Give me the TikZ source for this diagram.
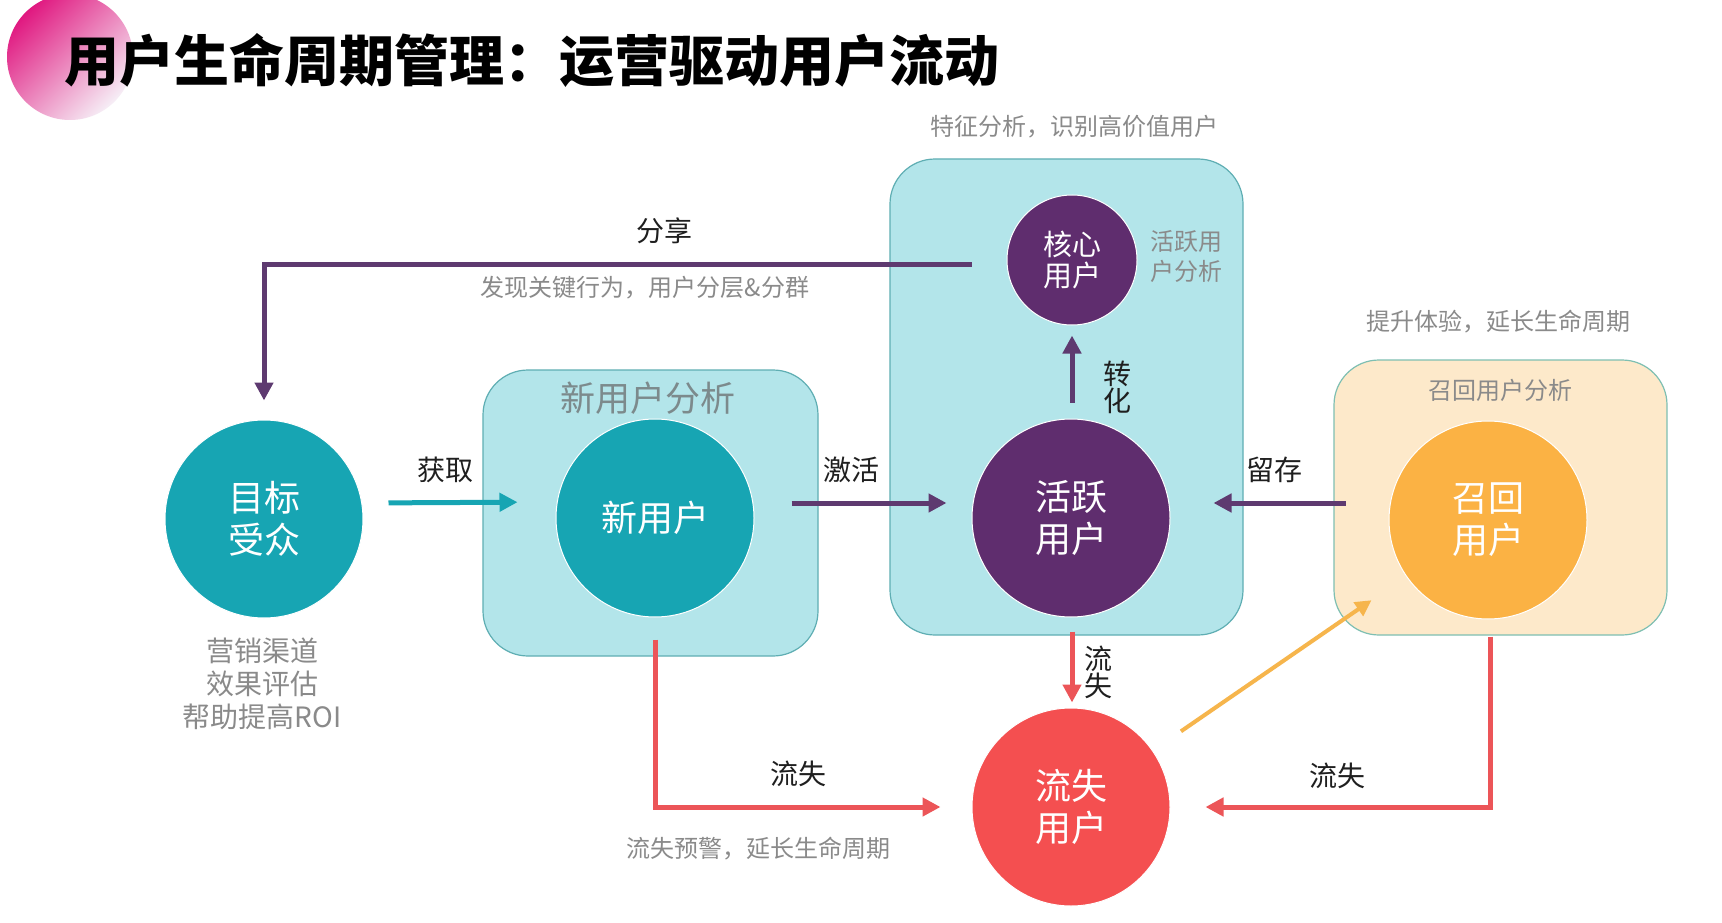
\documentclass[tikz,border=0pt]{standalone}
\usepackage{fontspec}
\setmainfont{Noto Sans CJK SC}
\usetikzlibrary{arrows.meta}
\definecolor{tealc}{HTML}{17A5B3}
\definecolor{boxfill}{HTML}{B3E5EA}
\definecolor{boxline}{HTML}{5FAEB3}
\definecolor{purc}{HTML}{5F2D6E}
\definecolor{purl}{HTML}{5E3A70}
\definecolor{redc}{HTML}{F44F50}
\definecolor{redl}{HTML}{EC5558}
\definecolor{orac}{HTML}{FBB244}
\definecolor{oral}{HTML}{F6B54C}
\definecolor{orbox}{HTML}{FDE9CA}
\definecolor{orboxl}{HTML}{7EBFB2}
\definecolor{grayt}{HTML}{8A8A8A}
\definecolor{grayb}{HTML}{7C8A8C}
\definecolor{magc}{HTML}{E01880}
\definecolor{midc}{HTML}{BE5AB4}
\definecolor{lilc}{HTML}{F6EEF6}
\begin{document}
\begin{tikzpicture}[x=1pt,y=-1pt,
  circ/.style={circle, minimum size=198pt, inner sep=0pt, text=white, align=center, draw=white, line width=1pt, font=\fontsize{36}{42}\selectfont},
  boxn/.style={rounded corners=45pt, draw=boxline, line width=1.2pt, fill=boxfill, inner sep=0pt},
  lbl/.style={text=black!88, font=\fontsize{28}{28}\selectfont, inner sep=0pt},
  vlbl/.style={text=black!88, font=\fontsize{28}{27}\selectfont, inner sep=0pt, align=center},
  note/.style={text=grayt, font=\fontsize{24}{30}\selectfont, inner sep=0pt, align=center},
  arr/.style={line width=5pt, -{Triangle[length=18pt,width=18pt]}},
]
\useasboundingbox (0,0) rectangle (1722,923);
\fill[white] (0,0) rectangle (1722,923);
% decorative circle
\shade[left color=magc, middle color=midc, right color=lilc, shading angle=45] (70,57) circle (63);
\node[anchor=west, inner sep=0pt, font=\fontsize{55}{55}\selectfont\bfseries] (title) at (64,60) {用户生命周期管理：运营驱动用户流动};

% boxes
\node[boxn, minimum width=335pt, minimum height=286pt] (bnew) at (650.5,513) {};
\node[boxn, minimum width=353pt, minimum height=476pt] (bact) at (1066.5,397) {};
\node[boxn, fill=orbox, draw=orboxl, minimum width=333pt, minimum height=275pt] (brec) at (1500.5,497.5) {};

% box titles and notes
\node[inner sep=0pt, text=grayb, font=\fontsize{35}{35}\selectfont] (tnew) at (648,398) {新用户分析};
\node[note] (tact) at (1074,127) {特征分析，识别高价值用户};
\node[note] (tcore) at (1186,256) {活跃用\\户分析};
\node[note] (trecu) at (1500,390) {召回用户分析};
\node[note] (trec) at (1498,322) {提升体验，延长生命周期};
\node[note, font=\fontsize{28}{33}\selectfont] (tta) at (262,684) {营销渠道\\效果评估\\帮助提高ROI};
\node[note] (tshare) at (645,288) {发现关键行为，用户分层\&分群};
\node[note] (tlost) at (758,849) {流失预警，延长生命周期};

% circles
\node[circ, fill=tealc] (ta) at (264,519) {目标\\受众};
\node[circ, fill=tealc] (nu) at (655,518) {新用户};
\node[circ, fill=purc] (au) at (1071,518) {活跃\\用户};
\node[circ, fill=purc, minimum size=130pt, font=\fontsize{29}{31}\selectfont] (core) at (1072,260) {核心\\用户};
\node[circ, fill=orac] (rc) at (1488,520) {召回\\用户};
\node[circ, fill=redc] (lu) at (1071,807) {流失\\用户};

% connectors
\draw[arr, tealc, shorten <=25pt, shorten >=38pt] ([yshift=16pt]ta.east) -- ([yshift=16pt]nu.west);
\draw[arr, purl, shorten <=37pt, shorten >=25pt] ([yshift=15pt]nu.east) -- ([yshift=15pt]au.west);
\draw[arr, purl, shorten <=43pt, shorten >=43pt] ([yshift=17pt]rc.west) -- ([yshift=15pt]au.east);
\draw[arr, purl, shorten <=16pt, shorten >=10pt] ([xshift=1pt]au.north) -- (core.south);
\draw[arr, purl, shorten <=35pt, shorten >=19pt] ([yshift=-4pt]core.west) -| (ta.north);
\draw[arr, redl, shorten <=14pt, shorten >=5pt] ([xshift=1pt]au.south) -- ([xshift=1pt]lu.north);
\draw[arr, redl, shorten <=22pt, shorten >=31pt] (nu.south) |- (lu.west);
\draw[arr, redl, shorten <=17pt, shorten >=35pt] ([xshift=2pt]rc.south) |- (lu.east);
\draw[line width=4pt, oral, -{Triangle[length=16pt,width=16pt]}, shorten <=34pt, shorten >=42pt] (lu) -- (rc);

% connector labels
\node[lbl] (lget) at (445,470) {获取};
\node[lbl] (lact) at (851,470) {激活};
\node[lbl] (lret) at (1274,470) {留存};
\node[lbl] (lshare) at (664,231) {分享};
\node[vlbl] (lconv) at (1117,387) {转\\化};
\node[vlbl] (lchurn) at (1098,672) {流\\失};
\node[lbl] (lch1) at (798,774) {流失};
\node[lbl] (lch2) at (1337,776) {流失};
\end{tikzpicture}
\end{document}
